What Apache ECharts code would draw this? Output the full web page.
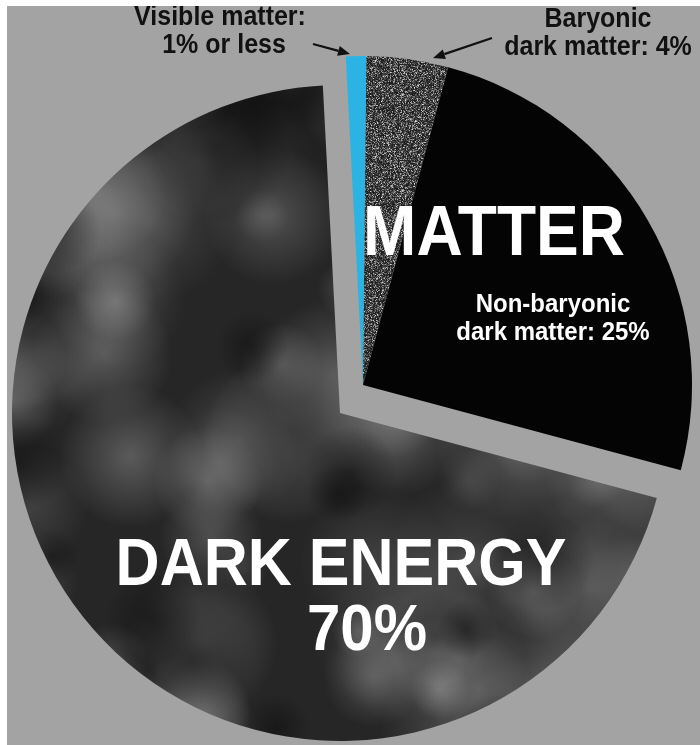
<!DOCTYPE html>
<html>
<head>
<meta charset="utf-8">
<script src="https://cdn.jsdelivr.net/npm/echarts@6/dist/echarts.min.js"></script>
<style>
html,body{margin:0;padding:0;background:#ffffff;}
#chart{width:700px;height:745px;}
</style>
</head>
<body>
<div id="chart"></div>
<script>
// ---- data ----
var categories = ['Visible matter', 'Baryonic dark matter', 'Non-baryonic dark matter', 'Dark energy'];
var shares = [1, 4, 25, 70];
var isMatter = [true, true, true, false];
var topLeftLabel = ['Visible matter:', '1% or less'];
var topRightLabel = ['Baryonic', 'dark matter: 4%'];
var nonBaryonicLabel = ['Non-baryonic', 'dark matter: 25%'];
var matterTitle = 'MATTER';
var energyTitle = 'DARK ENERGY';
var energyValue = '70%';

// ---- textures (styling only) ----
function lcg(seed){ var s = seed >>> 0; return function(){ s = (s * 1664525 + 1013904223) >>> 0; return s / 4294967296; }; }

function grainTexture(){
  var c = document.createElement('canvas'); c.width = 96; c.height = 96;
  var ctx = c.getContext('2d');
  var img = ctx.createImageData(96, 96);
  var r = lcg(12345);
  for (var i = 0; i < 96*96; i++){
    var v = Math.floor(25 + r()*r()*210);
    img.data[i*4] = v; img.data[i*4+1] = v; img.data[i*4+2] = v; img.data[i*4+3] = 255;
  }
  ctx.putImageData(img, 0, 0);
  return c;
}

function cloudTexture(){
  var c = document.createElement('canvas'); c.width = 700; c.height = 745;
  var ctx = c.getContext('2d');
  ctx.fillStyle = '#262626'; ctx.fillRect(0, 0, 700, 745);
  var r = lcg(987);
  for (var i = 0; i < 110; i++){
    var x = r()*700, y = r()*745, rad = 25 + r()*60, a = 0.12 + r()*0.3;
    var g = ctx.createRadialGradient(x, y, 0, x, y, rad);
    g.addColorStop(0, 'rgba(175,175,175,' + a + ')');
    g.addColorStop(1, 'rgba(175,175,175,0)');
    ctx.fillStyle = g; ctx.beginPath(); ctx.arc(x, y, rad, 0, Math.PI*2); ctx.fill();
  }
  for (var j = 0; j < 50; j++){
    var x2 = r()*700, y2 = r()*745, rad2 = 25 + r()*55;
    var g2 = ctx.createRadialGradient(x2, y2, 0, x2, y2, rad2);
    g2.addColorStop(0, 'rgba(8,8,8,0.45)');
    g2.addColorStop(1, 'rgba(8,8,8,0)');
    ctx.fillStyle = g2; ctx.beginPath(); ctx.arc(x2, y2, rad2, 0, Math.PI*2); ctx.fill();
  }
  return c;
}

var fills = [
  '#2bb3e3',
  { image: grainTexture(), repeat: 'repeat' },
  '#040404',
  { image: cloudTexture(), repeat: 'no-repeat' }
];

function seriesData(showMatter){
  return categories.map(function(name, i){
    var show = isMatter[i] === showMatter;
    return {
      name: name,
      value: shares[i],
      itemStyle: { color: show ? fills[i] : 'rgba(0,0,0,0)' }
    };
  });
}

var chart = echarts.init(document.getElementById('chart'), null, { renderer: 'canvas' });

var font = '"Liberation Sans", Arial, sans-serif';
function txt(text, x, y, size, color, sy){
  return { type: 'text', x: x, y: y, scaleY: sy || 1, silent: true, z: 100,
    style: { text: text, fill: color, font: 'bold ' + size + 'px ' + font, textAlign: 'center', textVerticalAlign: 'middle' } };
}
function arrow(x1, y1, x2, y2){
  var ang = Math.atan2(y2 - y1, x2 - x1), L = 12, W = 5;
  var bx = x2 - L*Math.cos(ang), by = y2 - L*Math.sin(ang);
  var px = -Math.sin(ang)*W, py = Math.cos(ang)*W;
  return [
    { type: 'line', silent: true, z: 100, shape: { x1: x1, y1: y1, x2: bx, y2: by }, style: { stroke: '#111', lineWidth: 2.2 } },
    { type: 'polygon', silent: true, z: 100, shape: { points: [[x2, y2], [bx + px, by + py], [bx - px, by - py]] }, style: { fill: '#111' } }
  ];
}

var graphics = [
  { type: 'rect', silent: true, z: 200, shape: { x: 0, y: 0, width: 7, height: 745 }, style: { fill: '#ffffff' } },
  { type: 'rect', silent: true, z: 200, shape: { x: 0, y: 0, width: 700, height: 6 }, style: { fill: '#ffffff' } },
  txt(topLeftLabel[0], 220, 18, 25, '#111', 1.08),
  txt(topLeftLabel[1], 224, 46, 25, '#111', 1.08),
  txt(topRightLabel[0], 598, 20, 25, '#111', 1.08),
  txt(topRightLabel[1], 598, 48, 25, '#111', 1.08),
  txt(matterTitle, 494, 236, 64, '#ffffff', 1.1),
  txt(nonBaryonicLabel[0], 553, 305, 24, '#ffffff', 1.08),
  txt(nonBaryonicLabel[1], 553, 333, 24, '#ffffff', 1.08),
  txt(energyTitle, 341, 567, 61, '#ffffff', 1.08),
  txt(energyValue, 367, 632, 60, '#ffffff', 1.08)
].concat(arrow(313, 44, 350, 54)).concat(arrow(492, 38, 433, 58));

chart.setOption({
  backgroundColor: '#a3a3a3',
  animation: false,
  tooltip: { show: false },
  series: [
    {
      type: 'pie', name: 'dark', silent: true,
      center: [340, 413], radius: [0, 328],
      startAngle: 93, clockwise: true,
      label: { show: false }, labelLine: { show: false },
      itemStyle: { borderWidth: 0 },
      emphasis: { disabled: true },
      data: seriesData(false)
    },
    {
      type: 'pie', name: 'matter', silent: true,
      center: [363, 385], radius: [0, 329],
      startAngle: 93, clockwise: true,
      label: { show: false }, labelLine: { show: false },
      itemStyle: { borderWidth: 0 },
      emphasis: { disabled: true },
      data: seriesData(true)
    }
  ],
  graphic: graphics
});
</script>
</body>
</html>
